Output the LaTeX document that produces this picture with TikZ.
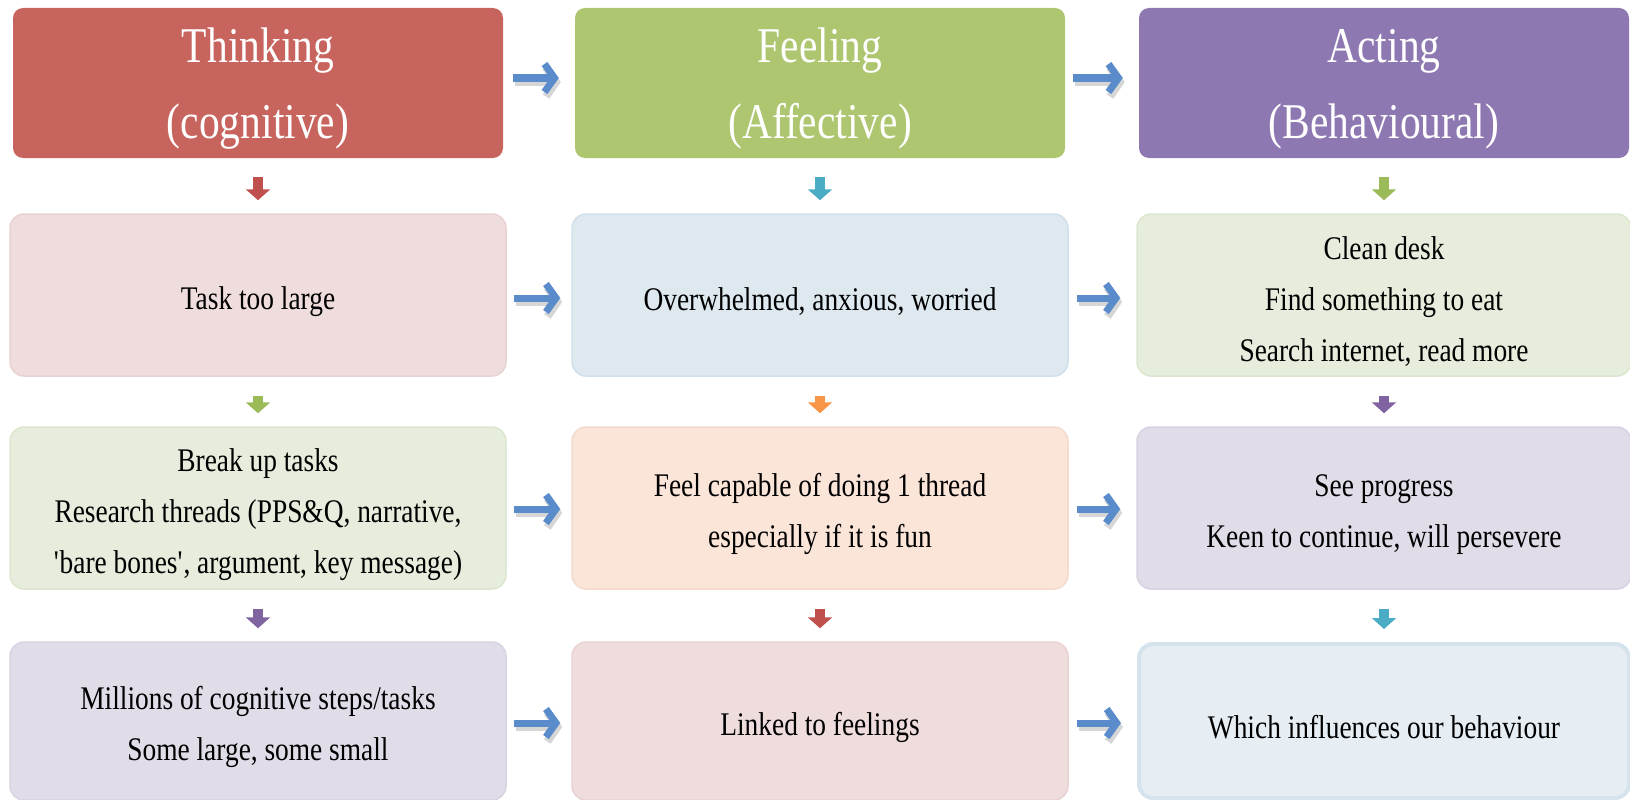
\documentclass[tikz,border=0pt]{standalone}
\usepackage{fontspec}
\setmainfont{Liberation Serif}[FakeStretch=0.83]
\usetikzlibrary{arrows.meta}
\definecolor{hRed}{HTML}{C8645E}
\definecolor{hGreen}{HTML}{ADC66F}
\definecolor{hPurple}{HTML}{8E78B2}
\definecolor{fPink}{HTML}{EFDDDD}\definecolor{bPink}{HTML}{E8D2D2}
\definecolor{fBlue}{HTML}{DDE8EF}\definecolor{bBlue}{HTML}{D2E0EA}
\definecolor{fGreen}{HTML}{E6EDDC}\definecolor{bGreen}{HTML}{DCE6CF}
\definecolor{fPeach}{HTML}{FBE5D9}\definecolor{bPeach}{HTML}{F4DACC}
\definecolor{fLav}{HTML}{E1DDE8}\definecolor{bLav}{HTML}{D8D3E2}
\definecolor{fBlueB}{HTML}{E6EEF4}\definecolor{bBlueB}{HTML}{D5E3EC}
\definecolor{aRed}{HTML}{C0504D}
\definecolor{aCyan}{HTML}{4BACC6}
\definecolor{aGreen}{HTML}{9BBB59}
\definecolor{aOrange}{HTML}{F79646}
\definecolor{aPurple}{HTML}{8064A2}
\definecolor{aBlue}{HTML}{5A8BCB}
\newcommand\myHS{\rule{0pt}{46pt}}
\newcommand\myBS{\rule{0pt}{36pt}}
\begin{document}
\begin{tikzpicture}[x=1pt,y=-1pt,
  hdr/.style={rounded corners=10pt, minimum width=490pt, minimum height=150pt, inner sep=0pt,
    text=white, align=center, font=\fontsize{50}{76}\selectfont},
  cell/.style={rounded corners=14pt, minimum width=496pt, minimum height=162pt, inner sep=0pt,
    align=center, font=\fontsize{33}{51}\selectfont, line width=1.5pt},
  rarrow/.style={draw=aBlue, line width=7pt, -{Straight Barb[length=10pt,width=28pt]}},
  rshadow/.style={draw=black, opacity=0.16, line width=8pt, -{Straight Barb[length=10pt,width=29pt]}},
  darrow/.style={draw=#1, line width=10pt, -{Triangle[length=11pt,width=24pt]}, shorten <=19pt, shorten >=13pt}
]
\useasboundingbox (0,0) rectangle (1630,800);
% headers
\node[hdr, fill=hRed] (h1) at (258,83) {\myHS Thinking\\(cognitive)};
\node[hdr, fill=hGreen] (h2) at (820,83) {\myHS Feeling\\(Affective)};
\node[hdr, fill=hPurple] (h3) at (1384,83) {\myHS Acting\\(Behavioural)};
% row 2
\node[cell, fill=fPink, draw=bPink] (a1) at (258,295) {\myBS Task too large};
\node[cell, fill=fBlue, draw=bBlue] (a2) at (820,295) {\myBS Overwhelmed, anxious, worried};
\node[cell, fill=fGreen, draw=bGreen, minimum width=494pt] (a3) at (1384,295) {\myBS Clean desk\\Find something to eat\\Search internet, read more};
% row 3
\node[cell, fill=fGreen, draw=bGreen] (b1) at (258,508) {\myBS Break up tasks\\Research threads (PPS\&Q, narrative,\\\textquotesingle bare bones\textquotesingle, argument, key message)};
\node[cell, fill=fPeach, draw=bPeach] (b2) at (820,508) {\myBS Feel capable of doing 1 thread\\especially if it is fun};
\node[cell, fill=fLav, draw=bLav, minimum width=494pt] (b3) at (1384,508) {\myBS See progress\\Keen to continue, will persevere};
% row 4
\node[cell, fill=fLav, draw=bLav, minimum height=158pt] (c1) at (258,721) {\myBS Millions of cognitive steps/tasks\\Some large, some small};
\node[cell, fill=fPink, draw=bPink, minimum height=158pt] (c2) at (820,721) {\myBS Linked to feelings};
\node[cell, fill=fBlueB, draw=bBlueB, line width=4pt, minimum width=490pt, minimum height=154pt] (c3) at (1384,721) {\myBS Which influences our behaviour};
% right arrows (shadow then arrow)
\foreach \p/\q/\s/\e/\dy in {h1/h2/10/16/5, h2/h3/8/16/5, a1/a2/7/11/-3, a2/a3/8/16/-3, b1/b2/7/11/-1, b2/b3/8/16/-1, c1/c2/7/11/-2, c2/c3/8/16/-2}{
  \draw[rshadow, shorten <=\s pt, shorten >=\e pt, transform canvas={shift={(2pt,-4pt)}}] ([yshift=\dy pt]\p.east) -- ([yshift=\dy pt]\q.west);
  \draw[rarrow, shorten <=\s pt, shorten >=\e pt] ([yshift=\dy pt]\p.east) -- ([yshift=\dy pt]\q.west);
}
% down arrows
\draw[darrow=aRed] (h1) -- (a1);
\draw[darrow=aCyan] (h2) -- (a2);
\draw[darrow=aGreen] (h3) -- (a3);
\draw[darrow=aGreen] (a1) -- (b1);
\draw[darrow=aOrange] (a2) -- (b2);
\draw[darrow=aPurple] (a3) -- (b3);
\draw[darrow=aPurple] (b1) -- (c1);
\draw[darrow=aRed] (b2) -- (c2);
\draw[darrow=aCyan] (b3) -- (c3);
\end{tikzpicture}
\end{document}
